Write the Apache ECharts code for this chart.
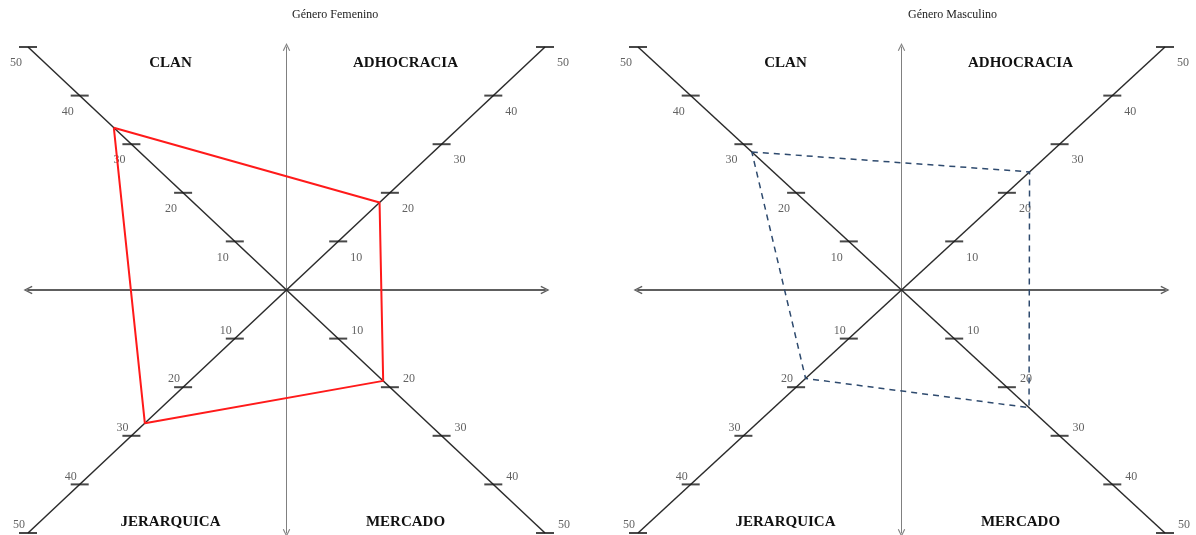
<!DOCTYPE html>
<html>
<head>
<meta charset="utf-8">
<script src="https://cdn.jsdelivr.net/npm/echarts@6/dist/echarts.min.js"></script>
<style>
  html, body { margin: 0; padding: 0; background: #fff; }
  #main { width: 1196px; height: 535px; }
</style>
</head>
<body>
<div id="main"></div>
<script>
// data
var categories = ['CLAN', 'ADHOCRACIA', 'MERCADO', 'JERARQUICA'];
var tickValues = [10, 20, 30, 40, 50];
var panelTitles = ['Género Femenino', 'Género Masculino'];
var femenino = [33.4, 18, 18.7, 27.4];
var masculino = [28.4, 24.3, 24.2, 18.2];

// direction of each category on the diagonals (x sign, y sign)
var dirs = [[-1, 1], [1, 1], [1, -1], [-1, -1]];
// label offset per quadrant
var labelOffsets = [[-12, 16], [18, 16], [19, -8], [-9, -8]];

var panels = [
  { left: 28, width: 517, top: 47, height: 486, title: panelTitles[0], values: femenino,
    line: { color: '#ff1a1a', width: 2, type: 'solid' }, titleLeft: 292 },
  { left: 638, width: 527, top: 47, height: 486, title: panelTitles[1], values: masculino,
    line: { color: '#2e4a6e', width: 1.5, type: [6, 5] }, titleLeft: 908 }
];

var chart = echarts.init(document.getElementById('main'));

var chevron = 'path://M0,10 L5,0 L10,10 L8.6,10.8 L5,3.2 L1.4,10.8 Z';

var grids = [], xAxes = [], yAxes = [], series = [], graphics = [];

panels.forEach(function (p, i) {
  grids.push({ left: p.left, top: p.top, width: p.width, height: p.height });
  xAxes.push({
    gridIndex: i, type: 'value', min: -50, max: 50,
    axisLine: { onZero: true, lineStyle: { color: '#5e5e5e', width: 2 },
      symbol: [chevron, chevron], symbolSize: [10, 9] },
    axisTick: { show: false }, axisLabel: { show: false }, splitLine: { show: false }
  });
  yAxes.push({
    gridIndex: i, type: 'value', min: -50, max: 50,
    axisLine: { onZero: true, lineStyle: { color: '#808080', width: 1 },
      symbol: [chevron, chevron], symbolSize: [8, 8] },
    axisTick: { show: false }, axisLabel: { show: false }, splitLine: { show: false }
  });

  // diagonals
  series.push({
    type: 'line', xAxisIndex: i, yAxisIndex: i, symbol: 'none', silent: true,
    data: [[-50, 50], [50, -50]], lineStyle: { color: '#2b2b2b', width: 1.5 }, z: 3
  });
  series.push({
    type: 'line', xAxisIndex: i, yAxisIndex: i, symbol: 'none', silent: true,
    data: [[-50, -50], [50, 50]], lineStyle: { color: '#2b2b2b', width: 1.5 }, z: 3
  });

  // tick marks with labels
  var tickData = [];
  dirs.forEach(function (d, q) {
    tickValues.forEach(function (v) {
      tickData.push({
        value: [d[0] * v, d[1] * v],
        label: { offset: labelOffsets[q], formatter: String(v) }
      });
    });
  });
  series.push({
    type: 'scatter', xAxisIndex: i, yAxisIndex: i, silent: true,
    symbol: 'rect', symbolSize: [18, 2],
    itemStyle: { color: '#1a1a1a' },
    label: { show: true, position: 'inside', color: '#3a3a3a',
      fontFamily: 'Liberation Serif', fontSize: 12 },
    data: tickData, z: 4
  });

  // profile polygon
  var poly = p.values.map(function (v, k) { return [dirs[k][0] * v, dirs[k][1] * v]; });
  poly.push(poly[0]);
  series.push({
    type: 'line', xAxisIndex: i, yAxisIndex: i, symbol: 'none', silent: true,
    data: poly, lineStyle: p.line, z: 5
  });

  // titles and category names
  var cx = p.left + p.width / 2;
  graphics.push({
    type: 'text', left: p.titleLeft, top: 9,
    style: { text: p.title, fontFamily: 'Liberation Serif', fontSize: 12, fill: '#222' }
  });
  var catPos = [[-116, 63], [119, 63], [119, 522], [-116, 522]];
  categories.forEach(function (c, k) {
    graphics.push({
      type: 'text', x: cx + catPos[k][0], y: catPos[k][1],
      style: { text: c, fontFamily: 'Liberation Serif', fontWeight: 'bold', fontSize: 15,
        fill: '#111', align: 'center', verticalAlign: 'middle' }
    });
  });
});

chart.setOption({
  backgroundColor: '#fff',
  animation: false,
  grid: grids,
  xAxis: xAxes,
  yAxis: yAxes,
  series: series,
  graphic: graphics
});
</script>
</body>
</html>
